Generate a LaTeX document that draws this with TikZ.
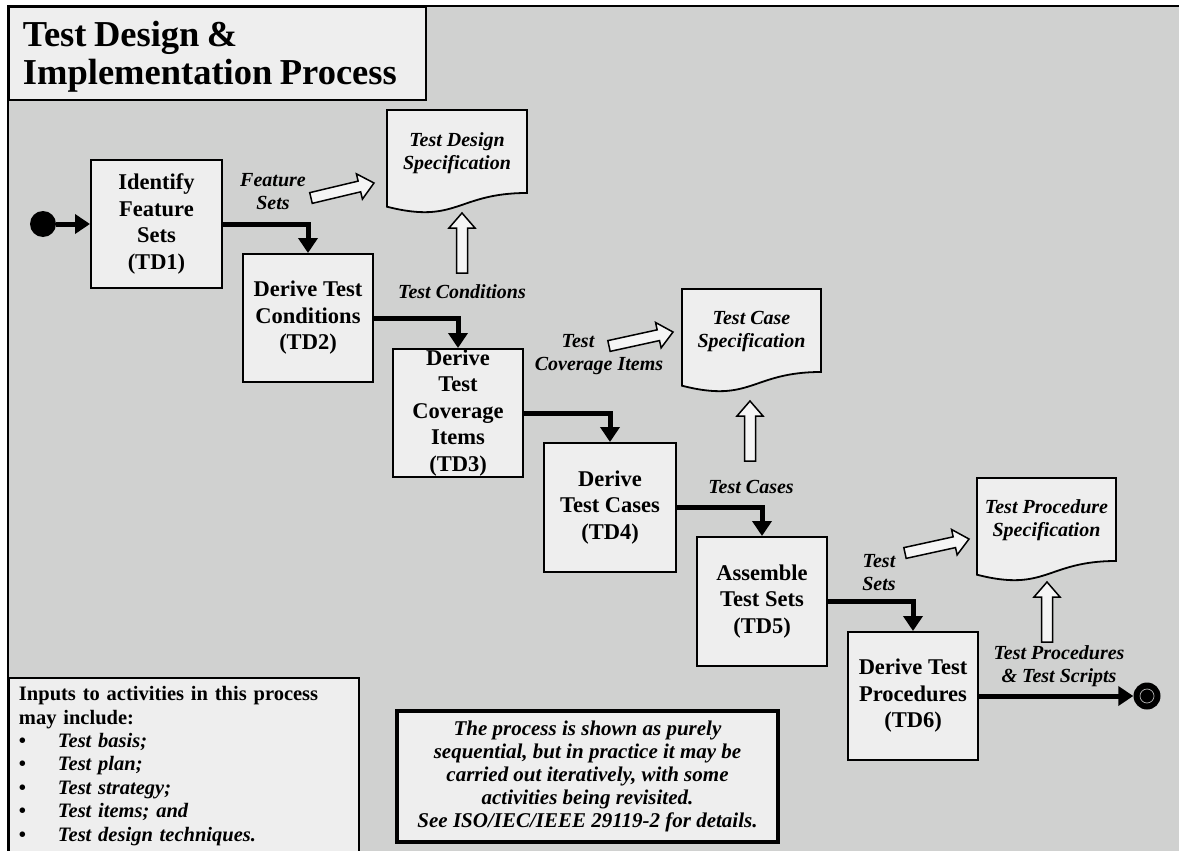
\documentclass[tikz,border=0pt]{standalone}
\usepackage{fontspec}
\setmainfont{Liberation Serif}
\usetikzlibrary{arrows.meta,calc}
\definecolor{bgray}{HTML}{D0D1D0}
\definecolor{boxfill}{HTML}{EEEEEE}
\newcommand\hollowarrow[2]{%
  \coordinate (hb) at ($(#2)!15pt!(#1)$);
  \draw[hollowstyle] ($(#1)!5.5pt!90:(#2)$) -- ($(hb)!5.5pt!90:(#2)$) -- ($(hb)!13pt!90:(#2)$) -- (#2)
    -- ($(hb)!13pt!-90:(#2)$) -- ($(hb)!5.5pt!-90:(#2)$) -- ($(#1)!5.5pt!-90:(#2)$) -- cycle;}
\newcommand\docpath[3]{%
  \begin{scope}[shift={(#1,#2)}]
    \draw[docstyle] (0,0) -- (#3,0) -- (#3,83) .. controls (0.5*#3,83) and (0.5*#3,114.6) .. (0,96.7) -- cycle;
  \end{scope}}
\newcommand\bitem[1]{\makebox[39pt][l]{\textbullet}\textit{#1}}
\newcommand\titlespacing{\spaceskip=7.5pt\relax}
\tikzset{
  proc/.style={draw, line width=2pt, fill=boxfill, minimum width=130pt, minimum height=128pt,
    align=center, inner sep=0pt, font=\fontsize{22.5}{26.5}\selectfont\bfseries},
  lbl/.style={align=center, inner sep=0pt, font=\fontsize{20}{23}\selectfont\bfseries\itshape},
  doctext/.style={align=center, inner sep=0pt, font=\fontsize{20}{22.5}\selectfont\bfseries\itshape},
  docstyle/.style={draw, line width=1.8pt, fill=boxfill},
  hollowstyle/.style={draw, line width=1.5pt, fill=boxfill!60!white, line join=miter},
  flow/.style={line width=5pt, -{Triangle[length=15pt,width=19pt]}},
}
\begin{document}
\begin{tikzpicture}[x=1pt,y=-1pt]
\useasboundingbox (0,0) rectangle (1179,851);
\fill[white] (0,0) rectangle (1179,851);
\fill[bgray] (8,6) rectangle (1179,851);
\draw[line width=2pt] (8,851) -- (8,6) -- (1179,6);

% title
\node[draw, line width=2pt, fill=boxfill, anchor=north west, minimum width=417pt, minimum height=93pt,
  text width=389pt, inner xsep=14pt, align=left,
  font=\fontsize{36.5}{38.5}\selectfont\bfseries]
  (title) at (8,6) {\titlespacing\rule{0pt}{32pt}Test Design \&\\Implementation Process};

% documents
\docpath{387}{110}{140}
\docpath{682}{289}{139}
\docpath{977}{478}{139}
\node[doctext] (d1) at (457,153) {Test Design\\Specification};
\node[doctext] (d2) at (751.5,331.5) {Test Case\\Specification};
\node[doctext] (d3) at (1046.5,520) {Test Procedure\\Specification};

% labels
\node[lbl] (fs) at (273,191.5) {Feature\\Sets};
\node[lbl] (tc) at (462,292) {Test Conditions};
\node[lbl] (tci) at (599,354.5) {Test\hspace*{42pt}\\Coverage Items};
\node[lbl] (tcs) at (751,487) {Test Cases};
\node[lbl] (ts) at (879,573) {Test\\Sets};
\node[lbl] (tp) at (1059,666.5) {Test Procedures\\\& Test Scripts};

% hollow arrows
\coordinate (fs-out) at (311,198);  \coordinate (d1-side) at (374,183);
\coordinate (tci-out) at (609,346); \coordinate (d2-side) at (673,332);
\coordinate (ts-out) at (905,553);  \coordinate (d3-side) at (969,539);
\coordinate (tc-out) at (462,273);  \coordinate (d1-bot) at (462,213);
\coordinate (tcs-out) at (750,461); \coordinate (d2-bot) at (750,401);
\coordinate (tp-out) at (1047,642); \coordinate (d3-bot) at (1047,582);
\hollowarrow{fs-out}{d1-side}
\hollowarrow{tci-out}{d2-side}
\hollowarrow{ts-out}{d3-side}
\hollowarrow{tc-out}{d1-bot}
\hollowarrow{tcs-out}{d2-bot}
\hollowarrow{tp-out}{d3-bot}

% process boxes
\node[proc, minimum width=131pt] (td1) at (156.5,224) {Identify\\Feature\\Sets\\(TD1)};
\node[proc] (td2) at (308,318) {Derive Test\\Conditions\\(TD2)};
\node[proc] (td3) at (458,413) {Derive\\Test\\Coverage\\Items\\(TD3)};
\node[proc, minimum width=132pt, minimum height=129pt] (td4) at (610,507.5) {Derive\\Test Cases\\(TD4)};
\node[proc, minimum height=129pt] (td5) at (762,601.5) {Assemble\\Test Sets\\(TD5)};
\node[proc] (td6) at (913,696) {Derive Test\\Procedures\\(TD6)};

% start / end
\node[circle, fill=black, minimum size=26pt, inner sep=0pt] (start) at (43,224) {};
\node[circle, fill=black, minimum size=27pt, inner sep=0pt] (end) at (1147,696) {};
\draw[gray!60, line width=0.7pt] (end.center) circle (7pt);

% flow
\draw[flow] (start) -- (td1.west);
\draw[flow] (td1.east) -| (td2.north);
\draw[flow] (td2.east) -| (td3.north);
\draw[flow] (td3.east) -| (td4.north);
\draw[flow] (td4.east) -| (td5.north);
\draw[flow] (td5.east) -| (td6.north);
\draw[flow] (td6.east) -- (end);

% inputs box
\node[draw, line width=2pt, fill=boxfill, anchor=north west, minimum width=350pt, minimum height=176pt,
  text width=330pt, inner xsep=10pt, align=left, font=\fontsize{20.5}{23.4}\selectfont\bfseries]
  (inputs) at (8,677) {Inputs to activities in this process\\may include:\\\bitem{Test basis;}\\\bitem{Test plan;}\\\bitem{Test strategy;}\\\bitem{Test items; and}\\\bitem{Test design techniques.}};

% note
\node[draw, line width=4pt, fill=boxfill, minimum width=381pt, minimum height=131pt, align=center,
  font=\fontsize{21}{23}\selectfont\bfseries\itshape] (note) at (587.5,776.5)
  {The process is shown as purely\\sequential, but in practice it may be\\carried out iteratively, with some\\activities being revisited.\\See ISO/IEC/IEEE 29119-2 for details.};
\end{tikzpicture}
\end{document}
